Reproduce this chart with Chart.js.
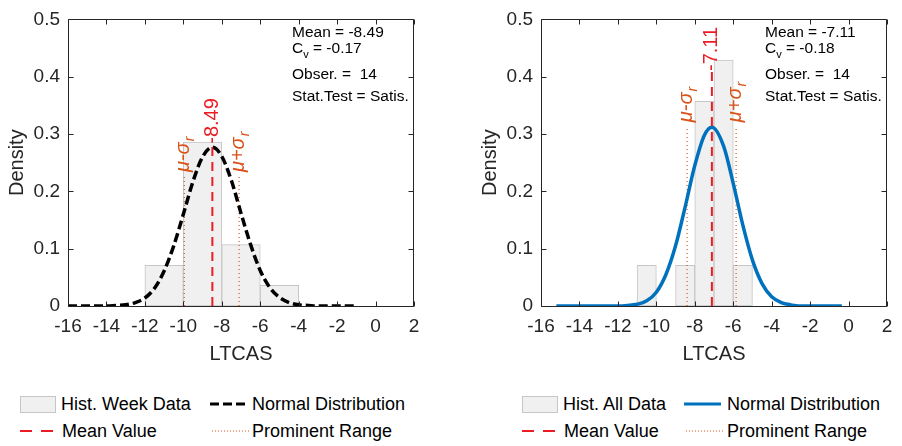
<!DOCTYPE html>
<html>
<head>
<meta charset="utf-8">
<script src="https://cdn.jsdelivr.net/npm/chart.js@4.4.1/dist/chart.umd.min.js"></script>
<style>
body { margin:0; background:#fff; width:902px; height:446px; overflow:hidden; position:relative; font-family:"Liberation Sans", Arial, sans-serif; }
canvas { position:absolute; top:0; }
.legText { position:absolute; font-size:18px; line-height:20px; color:#000; white-space:nowrap; }
.legSym { position:absolute; }
</style>
</head>
<body>
<canvas id="chartLeft" width="430" height="380" style="left:0"></canvas>
<canvas id="chartRight" width="429" height="380" style="left:473px"></canvas>
<div id="legends"></div>
<script>
// axis ticks
const xTickValues = [-16, -14, -12, -10, -8, -6, -4, -2, 0, 2];
const yTickValues = [0, 0.1, 0.2, 0.3, 0.4, 0.5];

// left panel: weekly data
const leftBinCenters = [-11, -9, -7, -5];
const leftDensity = [0.071, 0.286, 0.107, 0.036];
const leftCurveX = [-16, -15, -14, -13.5, -13, -12.5, -12, -11.5, -11, -10.5, -10, -9.5, -9, -8.49, -8, -7.5, -7, -6.5, -6, -5.5, -5, -4.5, -4, -3.5, -3, -2, -1];
const leftCurveY = [0, 0, 0, 0.001, 0.002, 0.006, 0.014, 0.031, 0.061, 0.105, 0.160, 0.217, 0.260, 0.277, 0.261, 0.219, 0.162, 0.107, 0.062, 0.032, 0.015, 0.006, 0.002, 0.001, 0, 0, 0];
const leftMean = -8.49;
const leftMeanTop = 0.283;
const leftRange = [-9.95, -7.1];
const leftRangeTop = 0.225;
const leftStats = { mean: '-8.49', cv: '-0.17', n: '14', test: 'Satis.' };
const leftLegend = ['Hist. Week Data', 'Normal Distribution', 'Mean Value', 'Prominent Range'];

// right panel: all data
const rightBinCenters = [-10.5, -8.5, -7.5, -6.5, -5.5];
const rightDensity = [0.071, 0.071, 0.357, 0.429, 0.071];
const rightCurveX = [-15.2, -14, -13, -12, -11.5, -11, -10.5, -10, -9.5, -9, -8.5, -8, -7.5, -7.11, -6.5, -6, -5.5, -5, -4.5, -4, -3.5, -3, -2.5, -2, -1, -0.35];
const rightCurveY = [0, 0, 0, 0, 0.001, 0.003, 0.009, 0.024, 0.055, 0.105, 0.173, 0.245, 0.298, 0.312, 0.279, 0.214, 0.141, 0.080, 0.039, 0.016, 0.006, 0.002, 0, 0, 0, 0];
const rightMean = -7.11;
const rightMeanTop = 0.41;
const rightRange = [-8.4, -5.85];
const rightRangeTop = 0.312;
const rightStats = { mean: '-7.11', cv: '-0.18', n: '14', test: 'Satis.' };
const rightLegend = ['Hist. All Data', 'Normal Distribution', 'Mean Value', 'Prominent Range'];

const FONT = '"Liberation Sans", Arial, sans-serif';
const AXIS = '#262626';
const RED = 'rgb(236, 28, 36)';
const ORANGE = '#d95319';
const BLUE = '#0072bd';

Chart.defaults.font.family = FONT;

// MATLAB-ish box, inward ticks and the text annotations
const matlabLook = {
    id: 'matlabLook',
    afterDatasetsDraw(chart, args, o) {
        const ctx = chart.ctx;
        const a = chart.chartArea;
        const x = chart.scales.x, y = chart.scales.y;
        const L = Math.round(a.left) + 0.5, R = Math.round(a.right) - 0.5;
        const T = Math.round(a.top) + 0.5, B = Math.round(a.bottom) + 0.5;
        ctx.save();
        ctx.strokeStyle = AXIS;
        ctx.lineWidth = 1;
        ctx.beginPath();
        ctx.rect(L, T, R - L, B - T);
        x.ticks.forEach(t => {
            const px = Math.round(x.getPixelForValue(t.value)) + 0.5;
            ctx.moveTo(px, B); ctx.lineTo(px, B - 5);
            ctx.moveTo(px, T); ctx.lineTo(px, T + 5);
        });
        y.ticks.forEach(t => {
            const py = Math.round(y.getPixelForValue(t.value)) + 0.5;
            ctx.moveTo(L, py); ctx.lineTo(L + 5, py);
            ctx.moveTo(R, py); ctx.lineTo(R - 5, py);
        });
        ctx.stroke();

        // mean value label
        ctx.save();
        ctx.fillStyle = RED;
        ctx.font = '20px ' + FONT;
        ctx.textAlign = 'left';
        ctx.textBaseline = 'middle';
        ctx.translate(x.getPixelForValue(o.mean), y.getPixelForValue(o.meanTop));
        ctx.rotate(-Math.PI / 2);
        ctx.fillText(String(o.mean), 0, 0);
        ctx.restore();

        // prominent range labels
        ['\u03bc-\u03c3', '\u03bc+\u03c3'].forEach((lab, i) => {
            ctx.save();
            ctx.fillStyle = ORANGE;
            ctx.textAlign = 'left';
            ctx.textBaseline = 'middle';
            ctx.translate(x.getPixelForValue(o.range[i]) - 1, y.getPixelForValue(o.rangeTop) - 5);
            ctx.rotate(-Math.PI / 2);
            ctx.font = 'italic 20px ' + FONT;
            ctx.fillText(lab, 0, 0);
            const w = ctx.measureText(lab).width;
            ctx.font = 'italic 14px ' + FONT;
            ctx.fillText('r', w + 1, 7);
            ctx.restore();
        });

        // stats box
        const s = o.stats;
        const tx = a.right - 122;
        ctx.fillStyle = '#000';
        ctx.textAlign = 'left';
        ctx.textBaseline = 'middle';
        ctx.font = '15.5px ' + FONT;
        ctx.fillText('Mean = ' + s.mean, tx, a.top + 13);
        ctx.fillText('C', tx, a.top + 29);
        const cw = ctx.measureText('C').width;
        ctx.font = '11px ' + FONT;
        ctx.fillText('v', tx + cw, a.top + 36);
        const vw = ctx.measureText('v').width;
        ctx.font = '15.5px ' + FONT;
        ctx.fillText(' = ' + s.cv, tx + cw + vw, a.top + 29);
        ctx.fillText('Obser. =  ' + s.n, tx, a.top + 55);
        ctx.fillText('Stat.Test = ' + s.test, tx, a.top + 77);
        ctx.restore();
    }
};

function buildChart(id, d) {
    const ctx = document.getElementById(id).getContext('2d');
    const vline = (xv, top, color, dash, width, order) => ({
        type: 'line',
        data: [{ x: xv, y: 0 }, { x: xv, y: top }],
        borderColor: color, borderDash: dash, borderWidth: width,
        pointRadius: 0, order: order
    });
    let config = {
        type: 'bar',
        data: {
            datasets: [
                {
                    type: 'bar',
                    data: d.binCenters.map((c, i) => ({ x: c, y: d.density[i] })),
                    backgroundColor: '#f0f0f0',
                    borderColor: '#c6c6c6',
                    borderWidth: 1,
                    borderSkipped: false,
                    barPercentage: 1,
                    categoryPercentage: 1,
                    order: 5
                },
                vline(d.range[0], d.rangeTop, ORANGE, [1, 3], 1.2, 4),
                vline(d.range[1], d.rangeTop, ORANGE, [1, 3], 1.2, 4),
                {
                    type: 'line',
                    data: d.curveX.map((v, i) => ({ x: v, y: d.curveY[i] })),
                    borderColor: d.curveColor,
                    borderDash: d.curveDash,
                    borderWidth: d.curveWidth,
                    cubicInterpolationMode: 'monotone',
                    pointRadius: 0,
                    order: 3
                },
                vline(d.mean, d.meanTop, RED, [9, 6], 2, 1)
            ]
        },
        options: {
            responsive: false,
            animation: false,
            layout: { padding: { left: 0, top: 10, right: d.padRight, bottom: 0 } },
            plugins: {
                legend: { display: false },
                tooltip: { enabled: false },
                matlabLook: { mean: d.mean, meanTop: d.meanTop, range: d.range, rangeTop: d.rangeTop, stats: d.stats }
            },
            scales: {
                x: {
                    type: 'linear', min: -16, max: 2, offset: false,
                    afterBuildTicks: s => { s.ticks = xTickValues.map(v => ({ value: v })); },
                    afterFit: s => { s.height = 74; },
                    grid: { display: false, drawTicks: false },
                    border: { display: false },
                    ticks: { padding: 9, color: AXIS, font: { size: 19 }, maxRotation: 0, autoSkip: false },
                    title: { display: true, text: 'LTCAS', color: AXIS, font: { size: 20 }, padding: { top: 0, bottom: 14 } }
                },
                y: {
                    type: 'linear', min: 0, max: 0.5,
                    afterBuildTicks: s => { s.ticks = yTickValues.map(v => ({ value: v })); },
                    afterFit: s => { s.width = 68; },
                    grid: { display: false, drawTicks: false },
                    border: { display: false },
                    ticks: { padding: 8, color: AXIS, font: { size: 19 } },
                    title: { display: true, text: 'Density', color: AXIS, font: { size: 20 }, padding: { top: 5, bottom: 0 } }
                }
            }
        },
        plugins: [matlabLook]
    };
    return new Chart(ctx, config);
}

buildChart('chartLeft', {
    binCenters: leftBinCenters, density: leftDensity,
    curveX: leftCurveX, curveY: leftCurveY,
    curveColor: '#000', curveDash: [9, 4], curveWidth: 3.5,
    mean: leftMean, meanTop: leftMeanTop, range: leftRange, rangeTop: leftRangeTop,
    stats: leftStats, padRight: 16
});
buildChart('chartRight', {
    binCenters: rightBinCenters, density: rightDensity,
    curveX: rightCurveX, curveY: rightCurveY,
    curveColor: BLUE, curveDash: [], curveWidth: 3.5,
    mean: rightMean, meanTop: rightMeanTop, range: rightRange, rangeTop: rightRangeTop,
    stats: rightStats, padRight: 15
});

// legends under each panel (2 x 2 like the MATLAB legend)
function legendSymbol(kind, curveColor, curveDash) {
    if (kind == 0)
        return '<div style="width:34px;height:15px;background:#f0f0f0;border:1px solid #c6c6c6"></div>';
    let stroke = curveColor, width = 3, dash = curveDash;
    if (kind == 2) { stroke = RED; width = 2; dash = '12 9'; }
    if (kind == 3) { stroke = ORANGE; width = 1; dash = '1 2'; }
    return `<svg width="37" height="20"><line x1="0" y1="10" x2="37" y2="10" stroke="${stroke}" stroke-width="${width}" stroke-dasharray="${dash}"/></svg>`;
}

function buildLegend(labels, symX, textX, curveColor, curveDash) {
    const rows = [404, 431];
    let html = '';
    labels.forEach((label, i) => {
        const row = Math.floor(i / 2);
        const top = rows[row] - 10;
        const symTop = i == 0 ? rows[row] - 8 : top;
        html += `<div class="legSym" style="left:${symX[i]}px;top:${symTop}px">${legendSymbol(i, curveColor, curveDash)}</div>`;
        html += `<span class="legText" style="left:${textX[i]}px;top:${top}px">${label}</span>`;
    });
    return html;
}

document.getElementById('legends').innerHTML =
    buildLegend(leftLegend, [20, 210, 20, 212], [61, 252, 62, 252], '#000', '9 4') +
    buildLegend(rightLegend, [522, 684, 522, 686], [563, 727, 564, 727], BLUE, '');
</script>
</body>
</html>
